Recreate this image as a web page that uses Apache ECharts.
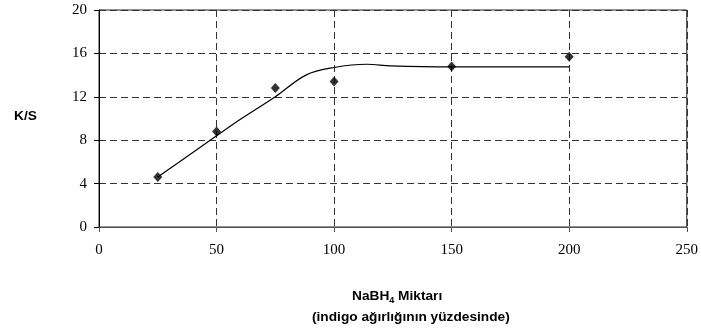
<!DOCTYPE html>
<html><head><meta charset="utf-8">
<script src="https://cdn.jsdelivr.net/npm/echarts@6/dist/echarts.min.js"></script>
<style>html,body{margin:0;padding:0;background:#fff}#c{width:701px;height:333px}</style>
</head><body><div id="c"></div>
<script>
// Measured points (scatter)
const pointX = [25, 50, 75, 100, 150, 200];
const pointY = [4.6, 8.8, 12.8, 13.4, 14.8, 15.7];
// Trend curve
const curveX = [25, 50, 60, 75, 88, 100, 114, 124, 150, 200];
const curveY = [4.6, 8.4, 9.9, 12.0, 14.0, 14.7, 15.0, 14.85, 14.75, 14.75];
const xTicks = [0, 50, 100, 150, 200, 250];
const yTicks = [0, 4, 8, 12, 16, 20];
const yAxisTitle = 'K/S';
const xTitle1 = 'NaBH';
const xTitleSub = '4';
const xTitle1b = ' Miktarı';
const xTitle2 = '(indigo ağırlığının yüzdesinde)';

const chart = echarts.init(document.getElementById('c'), null, {renderer: 'canvas'});
const serif = 'Liberation Serif, Times New Roman, serif';
const sans = 'Liberation Sans, Arial, sans-serif';
chart.setOption({
  animation: false,
  backgroundColor: '#fff',
  grid: {left: 99, right: 14, top: 10, bottom: 106, show: true, borderColor: '#222', borderWidth: 1, backgroundColor: 'transparent'},
  xAxis: {
    type: 'value', min: xTicks[0], max: xTicks[xTicks.length-1], interval: 50,
    axisLine: {lineStyle: {color: '#555', width: 1}},
    axisTick: {show: true, length: 5, lineStyle: {color: '#555'}},
    axisLabel: {color: '#000', fontFamily: serif, fontSize: 15, margin: 16},
    splitLine: {show: true, lineStyle: {color: '#333', type: [7, 4], width: 1}}
  },
  yAxis: {
    type: 'value', min: yTicks[0], max: yTicks[yTicks.length-1], interval: 4,
    axisLine: {show: true, lineStyle: {color: '#000', width: 1}},
    axisTick: {show: true, length: 5, lineStyle: {color: '#000'}},
    axisLabel: {color: '#000', fontFamily: serif, fontSize: 15, margin: 12},
    splitLine: {show: true, lineStyle: {color: '#333', type: [7, 4], width: 1}}
  },
  graphic: [
    {type: 'text', left: 14, top: 109, style: {text: yAxisTitle, font: 'bold 13.7px ' + sans, fill: '#000'}},
    {type: 'text', left: 352, top: 289, style: {
      text: '{a|' + xTitle1 + '}{s|' + xTitleSub + '}{a|' + xTitle1b + '}',
      rich: {
        a: {font: 'bold 13.7px ' + sans, fill: '#000'},
        s: {font: 'bold 9px ' + sans, fill: '#000', padding: [9, 0, 0, 0]}
      }
    }},
    {type: 'text', left: 312, top: 310, style: {text: xTitle2, font: 'bold 13.7px ' + sans, fill: '#000'}}
  ],
  series: [
    {type: 'line', data: curveX.map((x, i) => [x, curveY[i]]), smooth: 0.35, showSymbol: false,
     lineStyle: {color: '#000', width: 1.2}, z: 2},
    {type: 'scatter', data: pointX.map((x, i) => [x, pointY[i]]), symbol: 'diamond', symbolSize: [9, 10],
     itemStyle: {color: '#000'}, z: 3}
  ]
});
</script></body></html>
